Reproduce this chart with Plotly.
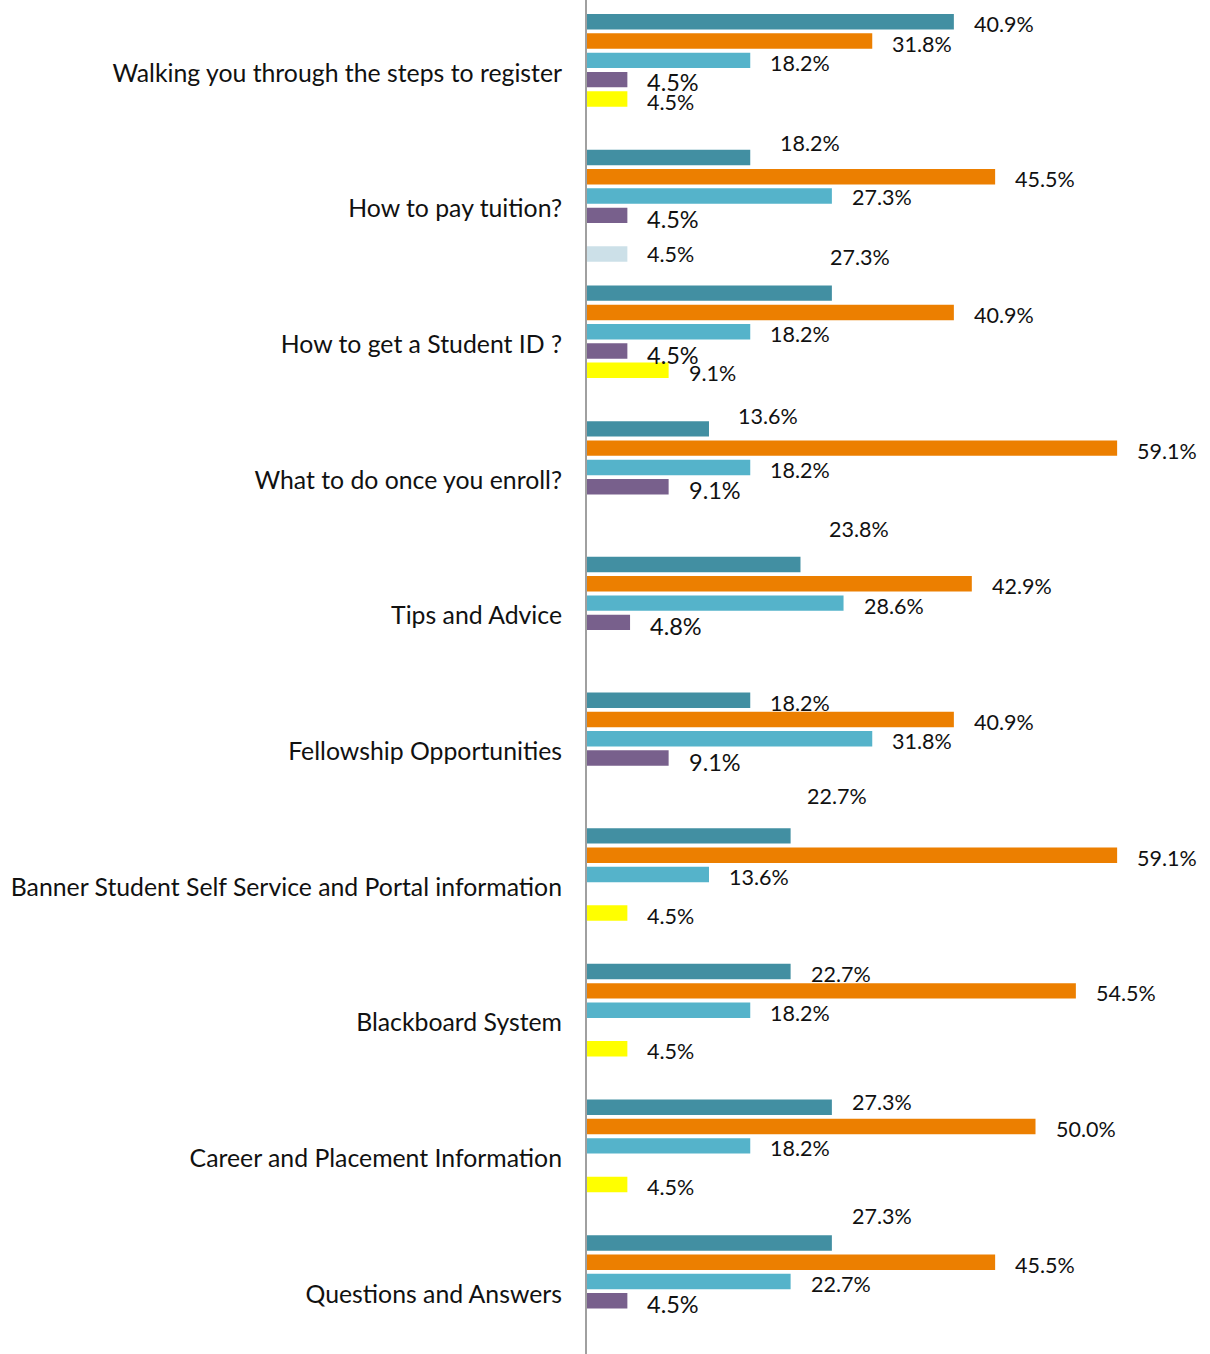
import plotly.graph_objects as go

# Survey topics, listed top to bottom
categories = [
    "Walking you through the steps to register",
    "How to pay tuition?",
    "How to get a Student ID ?",
    "What to do once you enroll?",
    "Tips and Advice",
    "Fellowship Opportunities",
    "Banner Student Self Service and Portal information",
    "Blackboard System",
    "Career and Placement Information",
    "Questions and Answers",
]

# Percentage of responses per rating, one list per series (None = no response)
series_1 = [40.9, 18.2, 27.3, 13.6, 23.8, 18.2, 22.7, 22.7, 27.3, 27.3]
series_2 = [31.8, 45.5, 40.9, 59.1, 42.9, 40.9, 59.1, 54.5, 50.0, 45.5]
series_3 = [18.2, 27.3, 18.2, 18.2, 28.6, 31.8, 13.6, 18.2, 18.2, 22.7]
series_4 = [4.5, 4.5, 4.5, 9.1, 4.8, 9.1, None, None, None, 4.5]
series_5 = [4.5, None, 9.1, None, None, None, 4.5, 4.5, 4.5, None]
series_6 = [None, 4.5, None, None, None, None, None, None, None, None]

series = [series_1, series_2, series_3, series_4, series_5, series_6]
names = ["Series 1", "Series 2", "Series 3", "Series 4", "Series 5", "Series 6"]
colors = ["#428FA2", "#EC7F00", "#55B3CA", "#78608C", "#FFFF00", "#CCE0E8"]

FONT = "Lato"
BARGAP = 0.147
N = len(series)

# Label placement tweaks (pixels) for labels nudged away from their bars:
# key = (category index, series index) -> (dx, dy), dy positive = down
label_nudge = {
    (1, 0): (10, -16.5),
    (2, 0): (-22, -39),
    (3, 0): (9, -15),
    (4, 0): (8.5, -38),
    (6, 0): (-4, -42.5),
    (8, 0): (0, -8),
    (9, 0): (0, -29.5),
    (1, 2): (0, -2),
    (1, 5): (0, -2),
    (0, 3): (0, -1),
    (0, 4): (0, 1),
}

fig = go.Figure()
for name, vals, col in zip(names, series, colors):
    fig.add_trace(go.Bar(
        y=categories, x=vals, name=name, orientation="h",
        marker=dict(color=col, line=dict(width=0)),
        hoverinfo="x+y",
    ))

slot = (1 - BARGAP) / N
annotations = []
for s_idx, vals in enumerate(series):
    size = 23.5 if s_idx == 3 else 21.5
    base_dy = 3.5 if s_idx == 3 else 2.5
    for c_idx, v in enumerate(vals):
        if v is None:
            continue
        dx, dy = label_nudge.get((c_idx, s_idx), (0, 0))
        annotations.append(dict(
            x=v, y=c_idx + (s_idx - (N - 1) / 2) * slot,
            xref="x", yref="y",
            text=f"{v:.1f}%",
            showarrow=False,
            xanchor="left", yanchor="middle",
            xshift=18 + dx, yshift=-(base_dy + dy),
            font=dict(family=FONT, size=size, color="#111111"),
        ))

PX_PER_PCT = 8.97
LEFT = 587
fig.update_layout(
    width=1210, height=1354,
    margin=dict(l=LEFT, r=0, t=0, b=0),
    paper_bgcolor="white", plot_bgcolor="white",
    barmode="group", bargap=BARGAP, bargroupgap=0.2,
    showlegend=False,
    annotations=annotations,
    font=dict(family=FONT, color="#111111"),
)
fig.update_xaxes(
    range=[0, (1210 - LEFT) / PX_PER_PCT],
    showgrid=False, zeroline=False, showticklabels=False, showline=False,
)
fig.update_yaxes(
    type="category",
    range=[9.463, -0.516],
    showgrid=False, zeroline=False,
    showline=True, linecolor="#A0A0A0", linewidth=2,
    ticks="", ticklabelstandoff=18, ticklabelshift=-3,
    tickfont=dict(family=FONT, size=24.8, color="#111111"),
)

fig.write_html("out.html")
